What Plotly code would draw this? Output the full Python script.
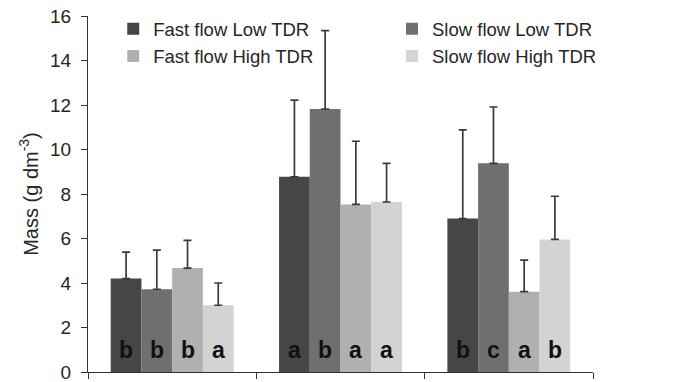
import plotly.graph_objects as go

groups = ["A", "B", "C"]
series_names = ["Fast flow Low TDR", "Slow flow Low TDR", "Fast flow High TDR", "Slow flow High TDR"]
series_colors = ["#464646", "#6f6f6f", "#b0b0b0", "#d3d3d3"]
fast_low = [4.2, 8.77, 6.9]
slow_low = [3.72, 11.82, 9.38]
fast_high = [4.67, 7.53, 3.61]
slow_high = [3.0, 7.64, 5.96]
fast_low_err = [1.19, 3.45, 3.98]
slow_low_err = [1.76, 3.52, 2.53]
fast_high_err = [1.25, 2.84, 1.42]
slow_high_err = [1.0, 1.74, 1.94]
fast_low_letters = ["b", "a", "b"]
slow_low_letters = ["b", "b", "c"]
fast_high_letters = ["b", "a", "a"]
slow_high_letters = ["a", "a", "b"]

values = [fast_low, slow_low, fast_high, slow_high]
errors = [fast_low_err, slow_low_err, fast_high_err, slow_high_err]
letters = [fast_low_letters, slow_low_letters, fast_high_letters, slow_high_letters]
legend_ids = ["legend", "legend2", "legend", "legend2"]

BARGAP = 0.27
FONT = "Arial, Liberation Sans, sans-serif"

fig = go.Figure()
for i, name in enumerate(series_names):
    fig.add_trace(go.Bar(
        x=groups, y=values[i], name=name,
        marker=dict(color=series_colors[i], line=dict(width=0)),
        error_y=dict(type="data", array=errors[i], arrayminus=[0] * len(groups),
                     symmetric=False, color="#3a3a3a", thickness=1.7, width=4),
        legend=legend_ids[i],
    ))

n = len(series_names)
w = (1 - BARGAP) / n
for i in range(n):
    for g in range(len(groups)):
        fig.add_annotation(
            x=g + (i - (n - 1) / 2) * w, y=0.97, xref="x", yref="y",
            text="<b>%s</b>" % letters[i][g], showarrow=False,
            font=dict(size=23, color="#111111", family=FONT),
            yanchor="middle", xanchor="center",
        )

fig.update_layout(
    width=683, height=374,
    margin=dict(l=80, r=98, t=8, b=10, autoexpand=False),
    paper_bgcolor="white", plot_bgcolor="white",
    barmode="group", bargap=BARGAP, bargroupgap=0,
    font=dict(family=FONT, size=18, color="#262626"),
    showlegend=True,
    legend=dict(x=0.05, y=1.016, xanchor="left", yanchor="top",
                font=dict(size=18.5, color="#262626"), bgcolor="rgba(0,0,0,0)",
                traceorder="normal"),
    legend2=dict(x=0.602, y=1.016, xanchor="left", yanchor="top",
                 font=dict(size=18.5, color="#262626"), bgcolor="rgba(0,0,0,0)",
                 traceorder="normal"),
    xaxis=dict(showticklabels=False, showline=True, linecolor="#333333", linewidth=1,
               ticks="outside", tickson="boundaries", ticklen=6, tickcolor="#333333",
               showgrid=False, zeroline=False),
    yaxis=dict(range=[0, 16], dtick=2, showline=True, linecolor="#333333", linewidth=1,
               ticks="outside", ticklen=6, tickcolor="#333333", showgrid=False,
               zeroline=False, tickfont=dict(size=19, color="#262626"),
               ticklabelstandoff=6, ticklabeloverflow="allow",
               title=dict(text="Mass (g dm<sup>-3</sup>)", font=dict(size=20, color="#262626"),
                          standoff=6)),
)

fig.write_html("out.html")
